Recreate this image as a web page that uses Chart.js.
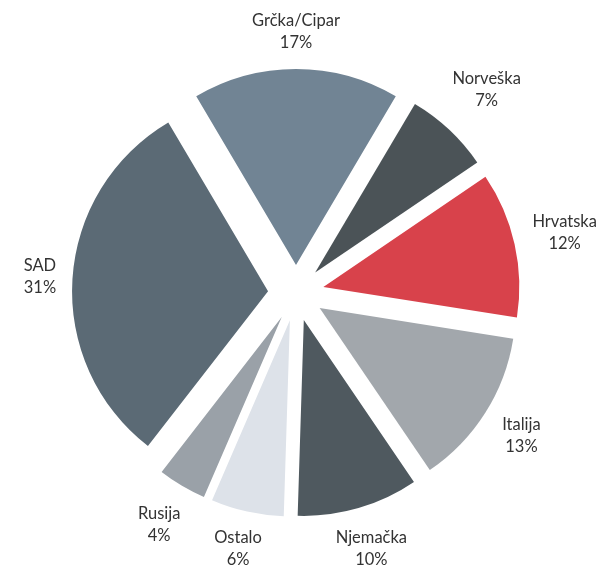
<!DOCTYPE html>
<html>
<head>
<meta charset="utf-8">
<script src="https://cdn.jsdelivr.net/npm/chart.js@4/dist/chart.umd.min.js"></script>
<style>
  html, body { margin: 0; padding: 0; background: #ffffff; }
  #wrap { width: 614px; height: 567px; position: relative; }
</style>
</head>
<body>
<div id="wrap"><canvas id="c" width="614" height="567"></canvas></div>
<script>
const categories = ['Grčka/Cipar', 'Norveška', 'Hrvatska', 'Italija', 'Njemačka', 'Ostalo', 'Rusija', 'SAD'];
const values = [17, 7, 12, 13, 10, 6, 4, 31];
const colors = ['#718494', '#4b5357', '#d8424b', '#a2a7ac', '#4f595f', '#dde2e9', '#9aa1a8', '#5b6a75'];

const EXPLODE = 28;
const LABEL_GAP = 15;
const LINE_H = 22;
const FONT = '16.5px Lato, "Open Sans", sans-serif';

const explodePlugin = {
  id: 'explode',
  beforeDatasetsDraw(chart) {
    const ca = chart.chartArea;
    const cx = (ca.left + ca.right) / 2, cy = (ca.top + ca.bottom) / 2;
    chart.getDatasetMeta(0).data.forEach(arc => {
      const mid = (arc.startAngle + arc.endAngle) / 2;
      arc.x = cx + Math.cos(mid) * EXPLODE;
      arc.y = cy + Math.sin(mid) * EXPLODE;
    });
  },
  afterDatasetsDraw(chart) {
    const ctx = chart.ctx;
    const ca = chart.chartArea;
    const cx = (ca.left + ca.right) / 2, cy = (ca.top + ca.bottom) / 2;
    const total = values.reduce((a, b) => a + b, 0);
    ctx.save();
    ctx.font = FONT;
    ctx.fillStyle = '#333333';
    ctx.textAlign = 'center';
    ctx.textBaseline = 'middle';
    chart.getDatasetMeta(0).data.forEach((arc, i) => {
      const mid = (arc.startAngle + arc.endAngle) / 2;
      const l1 = categories[i];
      const l2 = Math.round(values[i] / total * 100) + '%';
      const w = Math.max(ctx.measureText(l1).width, ctx.measureText(l2).width);
      const h = LINE_H * 2;
      const c = Math.cos(mid), s = Math.sin(mid);
      const dist = arc.outerRadius + EXPLODE + LABEL_GAP + Math.abs(c) * w / 2 + Math.abs(s) * h / 2;
      let lx = cx + c * dist;
      let ly = cy + s * dist;
      ly = Math.min(ly, chart.height - 18);
      ly = Math.max(ly, 18);
      ctx.fillText(l1, lx, ly - LINE_H / 2);
      ctx.fillText(l2, lx, ly + LINE_H / 2);
    });
    ctx.restore();
  }
};

new Chart(document.getElementById('c'), {
  type: 'pie',
  data: {
    labels: categories,
    datasets: [{
      data: values,
      backgroundColor: colors,
      borderWidth: 0
    }]
  },
  options: {
    responsive: false,
    animation: false,
    events: [],
    rotation: -30.6,
    radius: 196,
    layout: { padding: { left: 0, right: 22, top: 19, bottom: 0 } },
    plugins: {
      legend: { display: false },
      tooltip: { enabled: false }
    }
  },
  plugins: [explodePlugin]
});
</script>
</body>
</html>
